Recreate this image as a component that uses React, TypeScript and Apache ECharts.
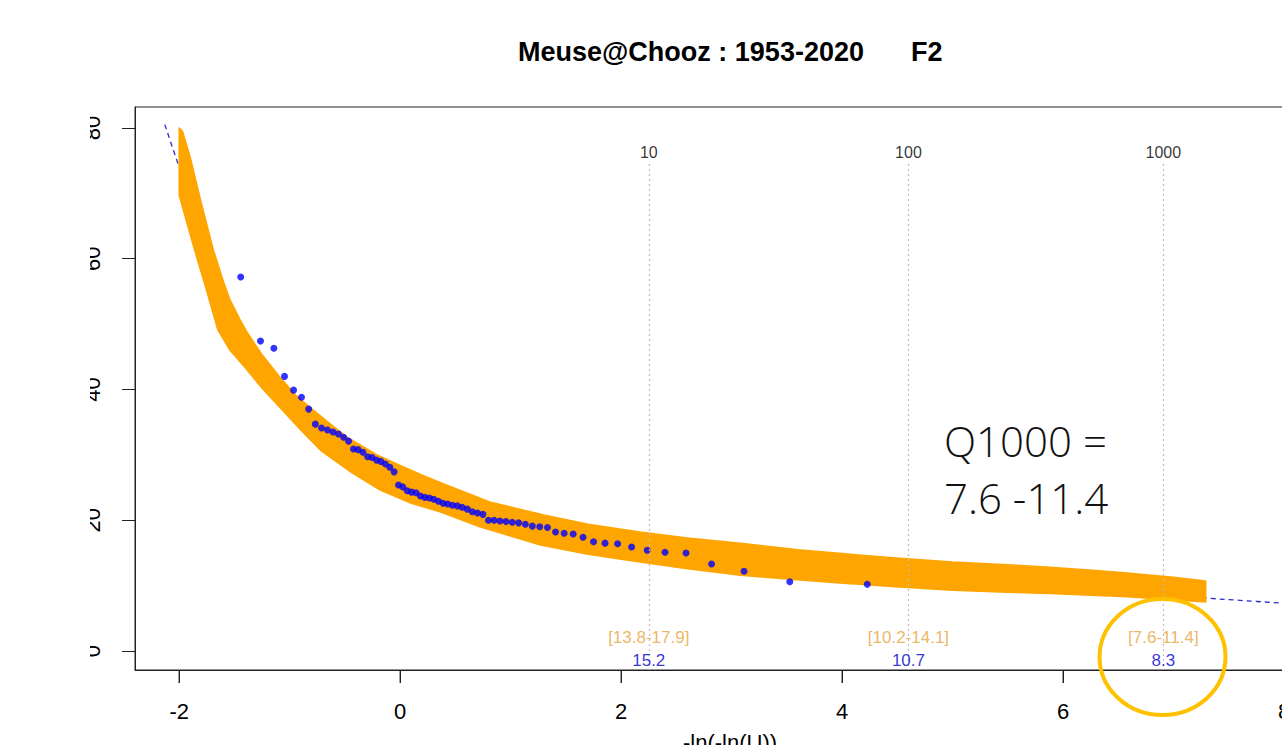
import React, { useEffect, useRef } from "react";
import * as echarts from "echarts";

// Observed annual values (plotting position x = -ln(-ln(U)), value y)
const dotX = [
  -1.443, -1.264, -1.143, -1.047, -0.965, -0.893, -0.828, -0.768, -0.712, -0.658,
  -0.608, -0.559, -0.512, -0.467, -0.423, -0.38, -0.337, -0.295, -0.254, -0.214,
  -0.174, -0.134, -0.094, -0.055, -0.015, 0.024, 0.064, 0.103, 0.143, 0.183,
  0.223, 0.264, 0.304, 0.346, 0.388, 0.43, 0.473, 0.517, 0.561, 0.607,
  0.653, 0.7, 0.749, 0.799, 0.85, 0.903, 0.957, 1.014, 1.072, 1.133,
  1.196, 1.263, 1.333, 1.406, 1.484, 1.566, 1.655, 1.75, 1.854, 1.968,
  2.094, 2.235, 2.397, 2.587, 2.818, 3.112, 3.526, 4.227,
];
const dotY = [
  57.2, 47.4, 46.3, 42.0, 39.9, 38.8, 37.0, 34.7, 34.1, 33.8,
  33.5, 33.2, 32.7, 32.1, 30.9, 30.8, 30.4, 29.7, 29.6, 29.2,
  29.0, 28.6, 28.1, 27.4, 25.4, 25.1, 24.5, 24.3, 24.2, 23.7,
  23.5, 23.4, 23.2, 22.9, 22.6, 22.5, 22.3, 22.2, 22.0, 21.7,
  21.3, 21.1, 20.9, 20.0, 20.0, 19.9, 19.8, 19.7, 19.6, 19.4,
  19.1, 19.0, 18.9, 18.2, 18.0, 17.9, 17.4, 16.7, 16.5, 16.4,
  15.9, 15.4, 15.1, 15.0, 13.3, 12.2, 10.6, 10.2,
];

// Uncertainty band (upper and lower edges)
const bandUpperX = [
  -2.0, -1.97, -1.9, -1.8, -1.69, -1.6, -1.54, -1.45, -1.38, -1.25, -1.09, -0.95,
  -0.79, -0.6, -0.48, -0.2, 0.0, 0.2, 0.4, 0.81, 1.3, 1.7, 2.17, 2.6, 3.08, 3.6,
  4.0, 4.52, 5.0, 5.5, 5.88, 6.3, 6.6, 7.0, 7.29,
];
const bandUpperY = [
  80.0, 79.5, 75.5, 68.5, 61.3, 56.5, 53.7, 50.7, 48.6, 45.3, 41.9, 39.2,
  36.9, 34.3, 32.7, 29.9, 28.4, 26.9, 25.5, 22.8, 20.8, 19.4, 18.2, 17.3, 16.5, 15.5,
  14.9, 14.2, 13.6, 13.2, 12.8, 12.3, 11.9, 11.3, 10.7,
];
const bandLowerX = [
  -2.0, -1.86, -1.75, -1.65, -1.54, -1.4, -1.25, -1.09, -0.9, -0.72, -0.45, -0.18,
  0.1, 0.36, 0.72, 1.27, 1.7, 2.17, 2.6, 3.08, 3.5, 3.98, 4.52, 5.0, 5.5, 5.88,
  6.58, 7.29,
];
const bandLowerY = [
  69.7, 61.3, 55.0, 49.1, 46.0, 43.3, 40.2, 37.3, 33.8, 30.7, 27.4, 24.6,
  22.6, 21.3, 19.0, 16.2, 14.8, 13.6, 12.6, 11.6, 11.0, 10.4, 9.8, 9.3, 9.0, 8.8,
  8.3, 7.5,
];

// Fitted curve (dashed)
const fitX = [-2.13, -2.0, -1.8, -1.6, -1.47, -1.24, -1.0, -0.5, 0.0, 0.5, 1.0, 1.5, 2.0, 3.0, 4.0, 5.0, 6.0, 7.0, 7.29, 8.37];
const fitY = [80.5, 74.0, 64.5, 55.5, 50.8, 45.0, 40.0, 32.5, 27.0, 23.0, 20.3, 18.3, 16.8, 14.3, 12.5, 11.0, 9.7, 8.5, 8.1, 6.9];

// Return periods and quantile estimates
const returnPeriods = ["10", "100", "1000"];
const returnPeriodX = [2.25, 4.6, 6.907];
const quantileCI = ["[13.8-17.9]", "[10.2-14.1]", "[7.6-11.4]"];
const quantileEst = ["15.2", "10.7", "8.3"];

const xTicks = [-2, 0, 2, 4, 6, 8];
const yTicks = [0, 20, 40, 60, 80];

const X_MIN = -2.4;
const X_MAX = 8.37;
const Y_MIN = -2.9;
const Y_MAX = 83.2;

const FONT = "'Liberation Sans', Arial, Helvetica, sans-serif";

export default function App() {
  const ref = useRef<HTMLDivElement>(null);

  useEffect(() => {
    if (!ref.current) return;
    const chart = echarts.init(ref.current, null, { renderer: "svg" });

    const labelSeries = (
      yPos: number,
      texts: string[],
      color: string,
      size: number
    ) => ({
      type: "scatter",
      symbolSize: 1,
      itemStyle: { color: "rgba(0,0,0,0)" },
      silent: true,
      z: 5,
      data: returnPeriodX.map((x, i) => ({
        value: [x, yPos],
        label: {
          show: true,
          position: "inside",
          formatter: texts[i],
          color,
          fontSize: size,
          fontFamily: FONT,
        },
      })),
    });

    const option: any = {
      animation: false,
      backgroundColor: "#ffffff",
      textStyle: { fontFamily: FONT },
      grid: {
        left: 135,
        top: 107,
        width: 1190,
        height: 563,
        show: true,
        borderColor: "#222",
        borderWidth: 1,
        backgroundColor: "transparent",
      },
      xAxis: {
        type: "value",
        position: "bottom",
        min: X_MIN,
        max: X_MAX,
        axisLine: { show: true, onZero: false, lineStyle: { color: "#222", width: 1 } },
        splitLine: { show: false },
        axisTick: {
          show: true,
          inside: false,
          customValues: xTicks,
          length: 13,
          lineStyle: { color: "#222", width: 1 },
        },
        axisLabel: {
          customValues: xTicks,
          fontSize: 22,
          color: "#000",
          fontFamily: FONT,
          margin: 30,
        },
      },
      yAxis: {
        type: "value",
        position: "left",
        min: Y_MIN,
        max: Y_MAX,
        axisLine: { show: true, onZero: false, lineStyle: { color: "#222", width: 1 } },
        splitLine: { show: false },
        axisTick: {
          show: true,
          inside: false,
          customValues: yTicks,
          length: 13,
          lineStyle: { color: "#222", width: 1 },
        },
        axisLabel: {
          customValues: yTicks,
          rotate: 90,
          fontSize: 22,
          color: "#000",
          fontFamily: FONT,
          margin: 32,
        },
      },
      series: [
        {
          type: "line",
          data: fitX.map((x, i) => [x, fitY[i]]),
          symbol: "none",
          showSymbol: false,
          smooth: 0.3,
          z: 1,
          lineStyle: { color: "#2a2ad0", width: 1.3, type: [5, 4] },
          markLine: {
            silent: true,
            symbol: ["none", "none"],
            label: { show: false },
            lineStyle: { color: "#bdbdbd", width: 1.2, type: [2, 3] },
            data: returnPeriodX.map((x) => [
              { coord: [x, 74.5] },
              { coord: [x, Y_MIN] },
            ]),
          },
        },
        {
          type: "custom",
          z: 2,
          silent: true,
          data: bandUpperX.map((x, i) => [x, bandUpperY[i]]),
          encode: { x: 0, y: 1 },
          renderItem: (params: any, api: any) => {
            if (params.dataIndex !== 0) return { type: "group", children: [] };
            const pts: number[][] = [];
            for (let i = 0; i < bandUpperX.length; i++) {
              pts.push(api.coord([bandUpperX[i], bandUpperY[i]]));
            }
            for (let i = bandLowerX.length - 1; i >= 0; i--) {
              pts.push(api.coord([bandLowerX[i], bandLowerY[i]]));
            }
            return {
              type: "polygon",
              shape: { points: pts },
              style: { fill: "#FFA500", stroke: "#FFA500", lineWidth: 1.5, lineJoin: "round" },
            };
          },
        },
        {
          type: "scatter",
          z: 3,
          symbolSize: 7,
          itemStyle: { color: "#0000FF" },
          data: dotX.map((x, i) => [x, dotY[i]]),
        },
        labelSeries(76.3, returnPeriods, "#000", 16),
        labelSeries(2.0, quantileCI, "#E6A43C", 17),
        labelSeries(-1.4, quantileEst, "#0000CD", 17),
      ],
      graphic: [
        {
          type: "text",
          x: 518,
          y: 52,
          style: {
            text: "Meuse@Chooz : 1953-2020",
            font: "bold 27px " + FONT,
            fill: "#000",
            textAlign: "left",
            textVerticalAlign: "middle",
          },
        },
        {
          type: "text",
          x: 911,
          y: 52,
          style: {
            text: "F2",
            font: "bold 27px " + FONT,
            fill: "#000",
            textAlign: "left",
            textVerticalAlign: "middle",
          },
        },
        {
          type: "text",
          x: 730,
          y: 731,
          style: {
            text: "-ln(-ln(U))",
            font: "22px " + FONT,
            fill: "#000",
            textAlign: "center",
            textVerticalAlign: "top",
          },
        },
        {
          type: "text",
          x: 944,
          y: 440,
          style: {
            text: "Q1000 =",
            font: "300 42px 'Open Sans', sans-serif",
            fill: "#111",
            textAlign: "left",
            textVerticalAlign: "middle",
          },
        },
        {
          type: "text",
          x: 944,
          y: 497,
          style: {
            text: "7.6 -11.4",
            font: "300 42px 'Open Sans', sans-serif",
            fill: "#111",
            textAlign: "left",
            textVerticalAlign: "middle",
          },
        },
        {
          type: "ellipse",
          z: 100,
          shape: { cx: 1162.5, cy: 657, rx: 63, ry: 58 },
          style: { fill: "none", stroke: "#FFC000", lineWidth: 4 },
        },
      ],
    };

    chart.setOption(option);

    // R-style x tick marks below the plot box, placed through the axis scale
    const tickMarks = xTicks.map((v, i) => {
      const p = chart.convertToPixel({ gridIndex: 0 }, [v, Y_MIN]) as number[];
      return {
        type: "line",
        id: "xtick" + i,
        z: 200,
        silent: true,
        shape: { x1: p[0], y1: p[1], x2: p[0], y2: p[1] + 13 },
        style: { stroke: "#222", lineWidth: 1.2 },
      };
    });
    chart.setOption({ graphic: tickMarks });

    return () => chart.dispose();
  }, []);

  return (
    <div
      style={{
        position: "fixed",
        left: 90,
        top: 0,
        width: 1192,
        height: 745,
        overflow: "hidden",
        background: "#fff",
      }}
    >
      <div
        ref={ref}
        style={{ position: "absolute", left: -90, top: 0, width: 1400, height: 745 }}
      />
    </div>
  );
}
